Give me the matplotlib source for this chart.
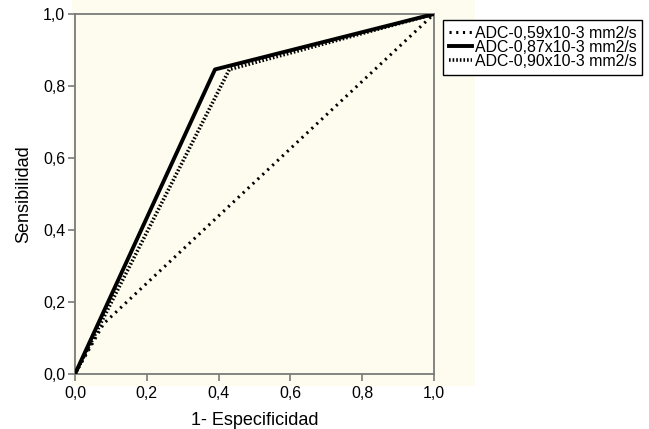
import matplotlib
matplotlib.use("Agg")
import matplotlib.pyplot as plt
from matplotlib.patches import Rectangle

plt.rcParams['font.family'] = ['Liberation Sans', 'DejaVu Sans']

# ROC data (1 - specificity, sensitivity)
labels = ["ADC-0,59x10-3 mm2/s", "ADC-0,87x10-3 mm2/s", "ADC-0,90x10-3 mm2/s"]
fpr_059 = [0.0, 0.08, 1.0]
tpr_059 = [0.0, 0.14, 1.0]
fpr_087 = [0.0, 0.39, 1.0]
tpr_087 = [0.0, 0.846, 1.0]
fpr_090 = [0.0, 0.43, 1.0]
tpr_090 = [0.0, 0.846, 1.0]
ticks = [0.0, 0.2, 0.4, 0.6, 0.8, 1.0]
tick_labels = ["0,0", "0,2", "0,4", "0,6", "0,8", "1,0"]

W, H = 649, 429
fig = plt.figure(figsize=(W / 100, H / 100), dpi=100)
fig.patch.set_facecolor("white")

cream = "#FDFCEF"
# chart-area cream background
fig.patches.append(Rectangle((72 / W, 1 - 386 / H), (475 - 72) / W, 386 / H,
                             transform=fig.transFigure, facecolor=cream,
                             edgecolor="none", zorder=-5))

ax = fig.add_axes([75 / W, 1 - 374 / H, (434 - 75) / W, (374 - 14) / H])
ax.set_zorder(1)
ax.set_facecolor(cream)

ax.plot(fpr_059, tpr_059, color="black", lw=2.2, linestyle=(0, (0.7, 1.5)),
        label=labels[0], zorder=3)
ax.plot(fpr_090, tpr_090, color="black", lw=2.6, linestyle=(0, (0.45, 0.55)),
        label=labels[2], zorder=3)
ax.plot(fpr_087, tpr_087, color="black", lw=2.8, linestyle="-",
        label=labels[1], zorder=4)

ax.set_xlim(0, 1)
ax.set_ylim(0, 1)
ax.set_xticks(ticks)
ax.set_xticklabels(tick_labels)
ax.set_yticks(ticks)
ax.set_yticklabels(tick_labels)

spine_color = "#7a7a7a"
for s in ax.spines.values():
    s.set_color(spine_color)
    s.set_linewidth(1.3)
ax.tick_params(direction="out", length=5, width=1.2, color=spine_color,
               labelsize=11.5, labelcolor="black", pad=2)
ax.tick_params(axis="x", pad=3.5)

ax.set_xlabel("1- Especificidad", fontsize=13, labelpad=8)
ax.set_ylabel("Sensibilidad", fontsize=13, labelpad=8)

handles, labs = ax.get_legend_handles_labels()
order = [labs.index(l) for l in labels]
leg = fig.legend([handles[i] for i in order], [labs[i] for i in order],
                 loc="upper left", bbox_to_anchor=(443 / W, 1 - 20 / H),
                 bbox_transform=fig.transFigure,
                 fontsize=11.4, frameon=True, fancybox=False,
                 handlelength=1.5, handletextpad=0.15, labelspacing=-0.05,
                 borderpad=0.35, borderaxespad=0, framealpha=1)
leg.set_zorder(10)
leg.get_frame().set_edgecolor("black")
leg.get_frame().set_linewidth(1.0)

fig.savefig("out.png", dpi=100)
